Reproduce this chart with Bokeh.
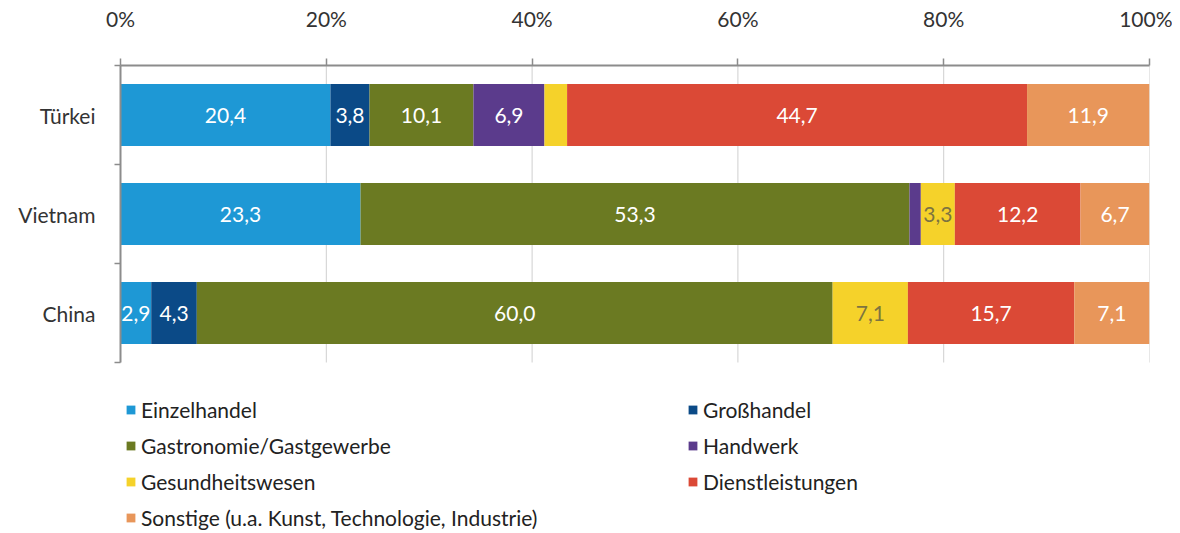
from bokeh.plotting import figure
from bokeh.models import (Range1d, LinearAxis, FixedTicker,
                          PrintfTickFormatter, ColumnDataSource, Legend, LegendItem)
from bokeh.embed import file_html
from bokeh.resources import INLINE
from bokeh.core.properties import value

# ---------------- data ----------------
countries = ["Türkei", "Vietnam", "China"]
sectors = ["Einzelhandel", "Großhandel", "Gastronomie/Gastgewerbe", "Handwerk",
           "Gesundheitswesen", "Dienstleistungen",
           "Sonstige (u.a. Kunst, Technologie, Industrie)"]
einzelhandel = [20.4, 23.3, 2.9]
grosshandel = [3.8, 0.0, 4.3]
gastronomie = [10.1, 53.3, 60.0]
handwerk = [6.9, 1.1, 0.0]
gesundheitswesen = [2.2, 3.3, 7.1]
dienstleistungen = [44.7, 12.2, 15.7]
sonstige = [11.9, 6.7, 7.1]
x_ticks = [0, 20, 40, 60, 80, 100]

series = [einzelhandel, grosshandel, gastronomie, handwerk,
          gesundheitswesen, dienstleistungen, sonstige]
colors = ["#1e98d5", "#0b4a87", "#6b7a22", "#5b3b8c", "#f5d22a", "#db4936", "#e8965a"]
label_colors = ["white", "white", "white", "white", "#7d7440", "white", "white"]

FONT = "Lato"
FS = "21px"
TEXT = "#333333"
AX = "#8c8c8c"

n = len(countries)
ypos = [n - i - 0.5 for i in range(n)]          # band centres, first country on top
bounds = list(range(n + 1))                      # band boundaries

W, H = 1172, 533
TOP, LEFT, RIGHT = 65, 120, 23
BAND_PX = 99                                     # pixel height of one category band
y_start = n - (H - TOP) / BAND_PX                # frame extends down to hold the legend

p = figure(width=W, height=H, x_range=Range1d(0, 100), y_range=Range1d(y_start, n),
           x_axis_type=None, y_axis_type=None,
           output_backend="svg", toolbar_location=None,
           min_border_left=LEFT, min_border_right=RIGHT, min_border_top=TOP,
           min_border_bottom=0)
p.outline_line_color = None

# top axis
xaxis = LinearAxis(ticker=FixedTicker(ticks=x_ticks),
                   formatter=PrintfTickFormatter(format="%d%%"))
xaxis.axis_line_color = AX
xaxis.axis_line_width = 2
xaxis.major_tick_line_color = AX
xaxis.major_tick_line_width = 1.5
xaxis.major_tick_out = 7
xaxis.major_tick_in = 0
xaxis.minor_tick_line_color = None
xaxis.major_label_standoff = 28
xaxis.major_label_text_font = FONT
xaxis.major_label_text_font_size = FS
xaxis.major_label_text_color = TEXT
p.add_layout(xaxis, "above")

# vertical grid lines, only across the bar area
p.segment(x0=x_ticks, y0=[0] * len(x_ticks), x1=x_ticks, y1=[n] * len(x_ticks),
          line_color="#cfcfcf", line_width=1)

# left axis: line with ticks at category boundaries
ytick_axis = LinearAxis(ticker=FixedTicker(ticks=bounds), bounds=(0, n))
ytick_axis.axis_line_color = AX
ytick_axis.axis_line_width = 2
ytick_axis.major_tick_line_color = AX
ytick_axis.major_tick_line_width = 1.5
ytick_axis.major_tick_out = 6
ytick_axis.major_tick_in = 0
ytick_axis.minor_tick_line_color = None
ytick_axis.major_label_overrides = {b: "" for b in bounds}
ytick_axis.major_label_text_font_size = "1px"
ytick_axis.major_label_standoff = 0
p.add_layout(ytick_axis, "left")

# category labels
cat_axis = LinearAxis(ticker=FixedTicker(ticks=ypos), bounds=(0, n))
cat_axis.major_label_overrides = {y: c for y, c in zip(ypos, countries)}
cat_axis.axis_line_color = None
cat_axis.major_tick_line_color = None
cat_axis.minor_tick_line_color = None
cat_axis.major_tick_out = 0
cat_axis.major_tick_in = 0
cat_axis.major_label_standoff = 19
cat_axis.major_label_text_font = FONT
cat_axis.major_label_text_font_size = FS
cat_axis.major_label_text_color = TEXT
p.add_layout(cat_axis, "left")

# ---------------- bars (100% stacked) ----------------
totals = [sum(s[i] for s in series) for i in range(n)]
cum = [0.0] * n
renderers = []
for k, vals in enumerate(series):
    left = [cum[i] for i in range(n)]
    right = [cum[i] + vals[i] / totals[i] * 100 for i in range(n)]
    cum = right
    src = ColumnDataSource(dict(y=ypos, left=left, right=right))
    r = p.hbar(y="y", left="left", right="right", height=0.625,
               source=src, fill_color=colors[k], line_color=None)
    renderers.append(r)
    keep = [i for i in range(n) if vals[i] >= 2.5]
    lsrc = ColumnDataSource(dict(
        y=[ypos[i] for i in keep],
        mid=[(left[i] + right[i]) / 2 for i in keep],
        label=[f"{vals[i]:.1f}".replace(".", ",") for i in keep]))
    p.text(x="mid", y="y", text="label", source=lsrc,
           text_align="center", text_baseline="middle", text_color=label_colors[k],
           text_font=value(FONT), text_font_size=FS)

# ---------------- legends (two columns) ----------------
ROW_H, ROW_GAP = 26, 10
LEG_TOP = 137   # px above frame bottom


def make_legend(idx, x):
    rows = len(idx)
    h = rows * ROW_H + (rows - 1) * ROW_GAP
    lg = Legend(items=[LegendItem(label=sectors[i], renderers=[renderers[i]]) for i in idx],
                location=(x, LEG_TOP - h), orientation="vertical")
    lg.label_text_font = FONT
    lg.label_text_font_size = FS
    lg.label_text_color = "#222222"
    lg.glyph_width = 11
    lg.glyph_height = 11
    lg.label_standoff = 5
    lg.label_height = ROW_H
    lg.spacing = ROW_GAP
    lg.padding = 0
    lg.margin = 0
    lg.border_line_color = None
    lg.background_fill_alpha = 0
    return lg


p.add_layout(make_legend([0, 2, 4, 6], 5), "center")
p.add_layout(make_legend([1, 3, 5], 567), "center")

open("out.html", "w").write(file_html(p, INLINE))
